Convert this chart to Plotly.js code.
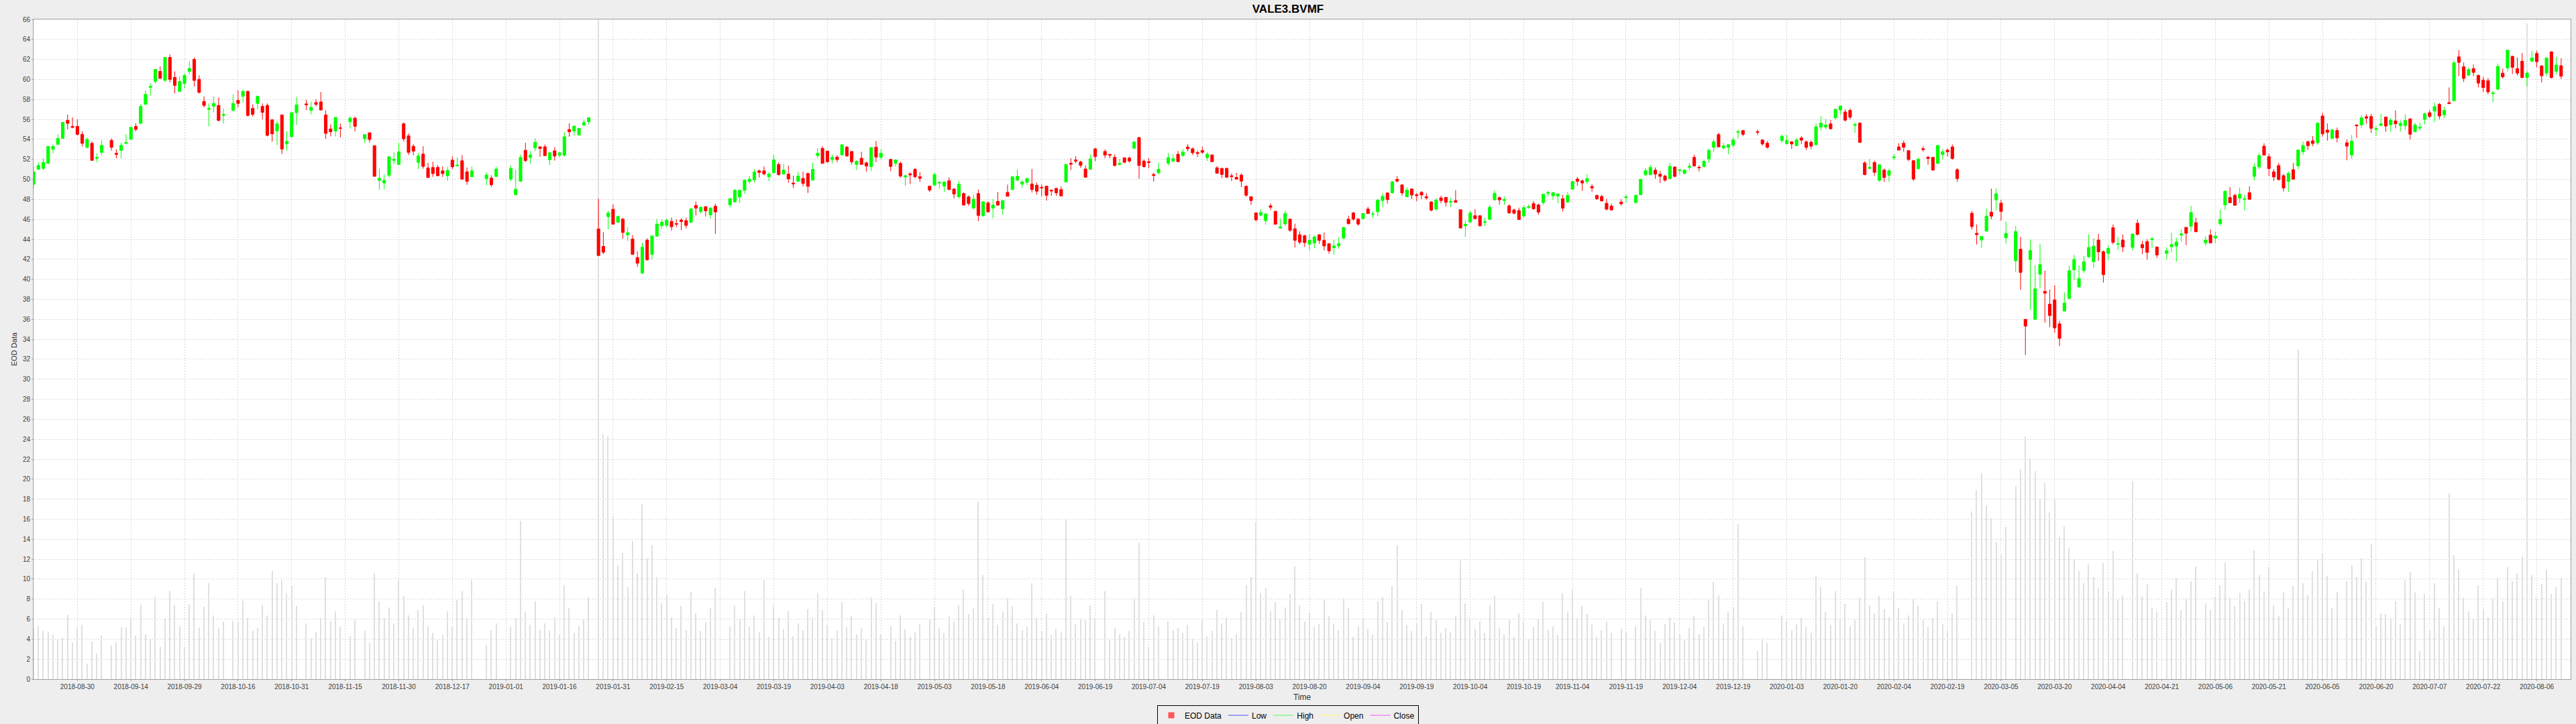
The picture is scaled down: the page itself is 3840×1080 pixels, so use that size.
<!DOCTYPE html>
<html lang="en">
<head>
    <meta charset="UTF-8">
    <title>VALE3.BVMF</title>
    <script src="https://cdn.plot.ly/plotly-3.0.1.min.js"></script>
    <style>
        body { margin: 0; background: #eeeeee; }
    </style>
</head>

<body>

<div id="plot"></div>

<script>

    // one line per month
    const dates = [
        '2018-08-17','2018-08-20','2018-08-21','2018-08-22','2018-08-23','2018-08-24','2018-08-27','2018-08-28','2018-08-29','2018-08-30','2018-08-31',
        '2018-09-03','2018-09-04','2018-09-05','2018-09-06','2018-09-10','2018-09-11','2018-09-12','2018-09-13','2018-09-14','2018-09-17','2018-09-18','2018-09-19','2018-09-20','2018-09-21','2018-09-24','2018-09-25','2018-09-26','2018-09-27','2018-09-28',
        '2018-10-01','2018-10-02','2018-10-03','2018-10-04','2018-10-05','2018-10-08','2018-10-09','2018-10-10','2018-10-11','2018-10-15','2018-10-16','2018-10-17','2018-10-18','2018-10-19','2018-10-22','2018-10-23','2018-10-24','2018-10-25','2018-10-26','2018-10-29','2018-10-30','2018-10-31',
        '2018-11-01','2018-11-05','2018-11-06','2018-11-07','2018-11-08','2018-11-09','2018-11-12','2018-11-13','2018-11-14','2018-11-16','2018-11-19','2018-11-21','2018-11-22','2018-11-23','2018-11-26','2018-11-27','2018-11-28','2018-11-29','2018-11-30',
        '2018-12-03','2018-12-04','2018-12-05','2018-12-06','2018-12-07','2018-12-10','2018-12-11','2018-12-12','2018-12-13','2018-12-14','2018-12-17','2018-12-18','2018-12-19','2018-12-20','2018-12-21','2018-12-26','2018-12-27','2018-12-28',
        '2019-01-02','2019-01-03','2019-01-04','2019-01-07','2019-01-08','2019-01-09','2019-01-10','2019-01-11','2019-01-14','2019-01-15','2019-01-16','2019-01-17','2019-01-18','2019-01-21','2019-01-22','2019-01-23','2019-01-24','2019-01-28','2019-01-29','2019-01-30','2019-01-31',
        '2019-02-01','2019-02-04','2019-02-05','2019-02-06','2019-02-07','2019-02-08','2019-02-11','2019-02-12','2019-02-13','2019-02-14','2019-02-15','2019-02-18','2019-02-19','2019-02-20','2019-02-21','2019-02-22','2019-02-25','2019-02-26','2019-02-27','2019-02-28',
        '2019-03-01','2019-03-06','2019-03-07','2019-03-08','2019-03-11','2019-03-12','2019-03-13','2019-03-14','2019-03-15','2019-03-18','2019-03-19','2019-03-20','2019-03-21','2019-03-22','2019-03-25','2019-03-26','2019-03-27','2019-03-28','2019-03-29',
        '2019-04-01','2019-04-02','2019-04-03','2019-04-04','2019-04-05','2019-04-08','2019-04-09','2019-04-10','2019-04-11','2019-04-12','2019-04-15','2019-04-16','2019-04-17','2019-04-18','2019-04-22','2019-04-23','2019-04-24','2019-04-25','2019-04-26','2019-04-29','2019-04-30',
        '2019-05-02','2019-05-03','2019-05-06','2019-05-07','2019-05-08','2019-05-09','2019-05-10','2019-05-13','2019-05-14','2019-05-15','2019-05-16','2019-05-17','2019-05-20','2019-05-21','2019-05-22','2019-05-23','2019-05-24','2019-05-27','2019-05-28','2019-05-29','2019-05-30','2019-05-31',
        '2019-06-03','2019-06-04','2019-06-05','2019-06-06','2019-06-07','2019-06-10','2019-06-11','2019-06-12','2019-06-13','2019-06-14','2019-06-17','2019-06-18','2019-06-19','2019-06-21','2019-06-24','2019-06-25','2019-06-26','2019-06-27','2019-06-28',
        '2019-07-01','2019-07-02','2019-07-03','2019-07-04','2019-07-05','2019-07-08','2019-07-10','2019-07-11','2019-07-12','2019-07-15','2019-07-16','2019-07-17','2019-07-18','2019-07-19','2019-07-22','2019-07-23','2019-07-24','2019-07-25','2019-07-26','2019-07-29','2019-07-30','2019-07-31',
        '2019-08-01','2019-08-02','2019-08-05','2019-08-06','2019-08-07','2019-08-08','2019-08-09','2019-08-12','2019-08-13','2019-08-14','2019-08-15','2019-08-16','2019-08-19','2019-08-20','2019-08-21','2019-08-22','2019-08-23','2019-08-26','2019-08-27','2019-08-28','2019-08-29','2019-08-30',
        '2019-09-02','2019-09-03','2019-09-04','2019-09-05','2019-09-06','2019-09-09','2019-09-10','2019-09-11','2019-09-12','2019-09-13','2019-09-16','2019-09-17','2019-09-18','2019-09-19','2019-09-20','2019-09-23','2019-09-24','2019-09-25','2019-09-26','2019-09-27','2019-09-30',
        '2019-10-01','2019-10-02','2019-10-03','2019-10-04','2019-10-07','2019-10-08','2019-10-09','2019-10-10','2019-10-11','2019-10-14','2019-10-15','2019-10-16','2019-10-17','2019-10-18','2019-10-21','2019-10-22','2019-10-23','2019-10-24','2019-10-25','2019-10-28','2019-10-29','2019-10-30','2019-10-31',
        '2019-11-01','2019-11-04','2019-11-05','2019-11-06','2019-11-07','2019-11-08','2019-11-11','2019-11-12','2019-11-13','2019-11-14','2019-11-18','2019-11-19','2019-11-21','2019-11-22','2019-11-25','2019-11-26','2019-11-27','2019-11-28','2019-11-29',
        '2019-12-02','2019-12-03','2019-12-04','2019-12-05','2019-12-06','2019-12-09','2019-12-10','2019-12-11','2019-12-12','2019-12-13','2019-12-16','2019-12-17','2019-12-18','2019-12-19','2019-12-20','2019-12-23','2019-12-26','2019-12-27','2019-12-30',
        '2020-01-02','2020-01-03','2020-01-06','2020-01-07','2020-01-08','2020-01-09','2020-01-10','2020-01-13','2020-01-14','2020-01-15','2020-01-16','2020-01-17','2020-01-20','2020-01-21','2020-01-22','2020-01-23','2020-01-24','2020-01-27','2020-01-28','2020-01-29','2020-01-30','2020-01-31',
        '2020-02-03','2020-02-04','2020-02-05','2020-02-06','2020-02-07','2020-02-10','2020-02-11','2020-02-12','2020-02-13','2020-02-14','2020-02-17','2020-02-18','2020-02-19','2020-02-20','2020-02-21','2020-02-26','2020-02-27','2020-02-28',
        '2020-03-02','2020-03-03','2020-03-04','2020-03-05','2020-03-06','2020-03-10','2020-03-11','2020-03-12','2020-03-13','2020-03-16','2020-03-17','2020-03-18','2020-03-19','2020-03-20','2020-03-23','2020-03-24','2020-03-25','2020-03-26','2020-03-27','2020-03-30','2020-03-31',
        '2020-04-01','2020-04-02','2020-04-03','2020-04-06','2020-04-07','2020-04-08','2020-04-09','2020-04-13','2020-04-14','2020-04-15','2020-04-16','2020-04-17','2020-04-20','2020-04-22','2020-04-23','2020-04-24','2020-04-27','2020-04-28','2020-04-29','2020-04-30',
        '2020-05-04','2020-05-05','2020-05-06','2020-05-07','2020-05-08','2020-05-11','2020-05-12','2020-05-13','2020-05-14','2020-05-15','2020-05-18','2020-05-19','2020-05-20','2020-05-21','2020-05-22','2020-05-25','2020-05-26','2020-05-27','2020-05-28','2020-05-29',
        '2020-06-01','2020-06-02','2020-06-03','2020-06-04','2020-06-05','2020-06-08','2020-06-09','2020-06-10','2020-06-12','2020-06-15','2020-06-16','2020-06-17','2020-06-18','2020-06-19','2020-06-22','2020-06-23','2020-06-24','2020-06-25','2020-06-26','2020-06-29','2020-06-30',
        '2020-07-01','2020-07-02','2020-07-03','2020-07-06','2020-07-07','2020-07-08','2020-07-09','2020-07-10','2020-07-13','2020-07-14','2020-07-15','2020-07-16','2020-07-17','2020-07-20','2020-07-21','2020-07-22','2020-07-23','2020-07-24','2020-07-27','2020-07-28','2020-07-29','2020-07-30','2020-07-31',
        '2020-08-03','2020-08-04','2020-08-05','2020-08-06','2020-08-07','2020-08-10','2020-08-11','2020-08-12','2020-08-13'
    ]

    const openPx = [
        49.5,51.0,51.1,51.6,53.0,53.5,54.1,55.9,55.3,55.3,54.5,
        53.2,53.6,52.1,52.7,53.9,52.6,52.9,53.6,54.0,55.3,55.6,57.5,59.2,59.8,60.8,59.9,62.2,60.2,58.8,
        59.6,60.8,62.0,60.0,57.8,57.0,57.3,57.4,56.4,56.9,57.9,58.3,58.8,57.1,57.6,57.3,57.4,55.96,54.84,56.45,53.54,54.26,
        56.67,57.55,56.9,57.68,57.75,56.45,55.04,54.84,55.15,55.78,56.12,54.06,54.66,53.37,49.9,49.63,50.4,51.9,51.49,
        55.56,54.35,53.31,51.70,52.53,51.14,51.19,51.19,50.85,50.36,51.92,51.34,51.86,50.76,50.25,50.09,50.13,50.29,
        50.02,48.46,49.80,52.91,52.19,53.15,53.26,53.26,51.97,52.86,52.42,52.42,54.99,54.83,54.45,55.43,55.77,45.04,43.29,46.27,47.01,
        45.71,46.02,44.46,44.03,42.18,40.63,43.92,42.49,44.32,45.37,45.40,45.80,45.58,45.93,45.87,45.71,47.39,46.78,47.27,46.45,
        47.32,47.45,47.74,48.24,48.91,49.80,49.96,50.85,50.85,50.26,50.66,51.49,50.53,50.53,49.63,49.81,50.10,50.59,49.92,
        52.38,53.10,52.83,51.98,52.23,52.45,53.23,52.79,51.49,52.11,51.65,51.27,53.21,52.20,52.0,51.60,51.60,50.24,50.55,51.0,50.26,
        49.32,49.43,49.63,49.32,49.86,49.03,48.25,48.58,48.25,47.13,48.58,46.35,47.64,47.13,47.80,47.06,48.69,48.98,49.92,49.52,49.70,49.54,
        49.41,49.21,49.32,48.92,49.10,48.98,49.74,51.60,51.94,51.74,51.04,51.0,53.05,52.79,52.50,52.20,51.49,52.16,52.13,
        53.11,54.18,51.83,51.77,50.49,50.65,51.61,51.83,52.51,52.39,53.24,53.06,52.68,52.89,52.17,52.44,51.16,51.10,51.10,50.36,50.20,50.43,
        49.31,48.26,46.65,46.42,45.87,47.36,46.80,45.13,45.55,46.02,45.06,44.46,44.35,43.52,43.63,44.46,43.90,43.56,43.16,43.34,44.12,46.02,
        46.63,46.02,46.07,47.03,46.49,46.76,47.88,48.64,48.64,50.0,49.44,48.26,49.04,48.46,48.70,48.26,47.74,47.03,48.15,48.19,47.70,
        47.88,46.96,45.35,45.73,46.36,46.36,45.69,46.0,47.95,48.17,47.88,47.35,46.94,46.88,46.34,47.19,47.57,47.44,47.68,48.60,48.35,48.33,48.06,
        47.73,49.02,50.03,49.85,49.78,49.29,48.40,48.29,47.61,47.32,47.73,48.17,47.68,48.46,50.45,50.48,50.92,50.52,50.34,
        50.07,51.24,50.88,50.59,51.21,52.20,51.21,51.30,52.04,53.20,54.48,53.16,53.20,53.43,54.70,54.88,54.77,53.94,53.61,
        53.88,53.58,53.76,53.38,54.14,53.76,53.72,53.47,55.22,55.22,55.55,56.15,56.94,56.74,56.9,55.40,55.62,51.64,51.10,51.69,49.90,50.93,
        50.41,52.16,53.25,53.61,52.87,51.87,51.08,53.07,52.20,52.20,51.60,52.49,52.92,53.25,50.97,46.61,44.60,43.93,
        44.82,46.72,47.95,47.62,44.15,41.85,43.01,36.0,41.98,35.99,40.51,38.79,37.51,37.94,35.55,36.82,38.09,40.95,39.23,40.87,42.25,
        41.76,43.93,42.77,42.59,45.16,43.50,43.93,43.19,45.61,43.48,43.77,43.97,43.24,42.59,43.26,43.32,44.42,45.20,45.31,45.67,
        43.64,44.42,44.13,45.56,47.44,48.18,48.40,48.11,48.0,48.67,50.30,51.24,53.32,52.27,50.75,51.38,50.37,49.79,50.97,51.35,
        52.76,53.77,53.86,53.66,56.34,54.93,54.10,54.89,53.66,52.43,55.45,55.45,56.27,56.29,55.0,55.40,56.23,55.45,55.85,55.38,55.38,
        56.05,54.77,55.13,56.0,56.67,56.83,57.50,56.45,57.68,57.86,62.26,61.26,60.43,61.08,60.41,59.92,59.87,58.57,59.02,60.63,61.15,62.31,61.08,
        61.82,60.18,61.82,62.60,61.35,60.63,62.76,60.81,61.37
    ]

    const highPx = [
        51.3,51.7,52.1,53.3,53.5,54.5,55.7,56.5,56.2,56.0,54.8,
        54.2,53.8,52.6,53.9,54.1,53.0,53.7,54.5,55.3,55.6,57.5,58.9,59.6,61.0,61.3,62.2,62.5,60.8,60.3,
        60.6,61.8,62.2,60.4,58.3,57.6,58.3,58.2,57.1,58.5,58.9,59.0,58.9,57.5,58.4,57.6,57.6,56.0,55.85,56.45,54.82,56.67,
        58.24,57.95,57.79,58.0,58.75,56.9,55.5,56.2,55.6,56.3,56.3,54.5,54.7,53.4,51.09,50.48,52.27,52.72,53.66,
        55.7,54.6,53.53,52.64,53.31,51.66,51.77,51.43,51.32,51.25,52.30,52.19,52.44,51.19,51.30,50.70,50.40,51.25,
        51.41,50.96,52.48,53.67,52.82,54.09,53.26,53.49,52.75,53.22,52.77,54.72,55.61,55.39,55.17,55.95,56.22,48.06,44.72,46.85,47.50,
        46.38,46.16,45.22,44.43,42.80,43.65,44.10,44.34,46.04,46.0,46.07,46.18,46.0,46.11,46.16,47.12,47.79,47.27,47.32,47.23,
        47.56,48.08,49.02,48.95,50.02,50.36,51.03,50.98,51.30,50.75,52.45,51.71,51.53,51.38,50.37,50.75,50.77,50.66,51.67,
        53.10,53.32,52.87,52.49,52.43,53.50,53.34,52.83,51.89,52.76,51.78,53.17,53.84,53.01,52.0,51.98,51.78,50.48,50.71,51.15,50.71,
        49.36,50.66,49.81,49.81,50.19,49.14,49.86,48.69,48.40,48.47,48.98,47.80,47.80,48.02,48.74,47.96,49.48,50.33,50.99,49.92,50.19,51.04,
        49.66,49.48,49.36,48.98,49.14,49.30,51.53,52.11,52.32,51.87,51.38,52.49,53.17,53.01,52.54,52.49,52.05,52.20,52.28,
        53.85,54.25,51.99,52.13,50.67,51.68,52.62,52.51,52.84,53.02,53.51,53.18,52.89,53.29,52.73,52.51,51.32,51.16,51.16,50.61,50.65,50.61,
        49.38,48.32,46.69,47.03,46.63,47.59,46.87,46.09,46.87,46.09,45.57,44.79,44.46,44.52,44.39,44.52,44.68,43.63,43.94,44.23,45.28,46.36,
        46.74,46.13,46.58,47.25,46.80,48.03,48.64,48.70,49.82,50.34,49.53,49.22,49.08,48.64,48.82,48.64,47.81,48.10,48.37,48.26,48.15,
        48.93,46.96,45.87,46.85,47.03,46.40,46.13,47.44,48.91,48.29,48.29,47.50,47.06,47.17,47.39,47.50,47.84,47.57,48.55,48.84,48.73,48.55,48.46,
        48.73,49.85,50.25,49.96,50.52,49.52,48.46,48.44,48.06,47.57,48.02,48.46,48.46,50.01,51.15,51.46,51.19,50.86,50.45,
        51.64,51.30,51.01,51.01,51.64,52.47,51.41,51.97,53.09,53.99,54.66,53.65,53.47,54.21,54.99,54.95,54.99,53.99,53.83,
        54.48,54.48,53.81,54.14,54.32,53.88,53.88,55.62,56.33,56.04,55.93,57.12,57.41,57.0,57.1,55.71,55.71,51.82,52.04,51.87,51.53,51.08,
        51.08,52.54,53.61,53.88,52.94,51.91,52.16,53.32,52.38,52.25,53.43,53.03,53.10,53.48,51.13,46.84,45.49,44.29,
        47.06,49.07,49.07,47.95,45.78,45.34,44.26,36.0,43.99,41.40,43.55,40.87,38.97,39.41,35.84,38.68,41.36,42.43,41.42,42.32,44.49,
        44.11,44.55,42.88,43.41,45.49,44.26,44.49,44.60,45.99,43.86,44.0,44.26,43.24,43.19,44.67,44.15,45.0,45.20,47.35,46.16,
        44.31,45.0,44.76,46.95,48.92,49.23,48.56,49.18,48.45,49.30,51.60,52.65,53.61,52.58,51.02,51.64,50.53,50.79,51.64,52.94,
        53.81,53.88,54.33,55.71,56.67,55.60,55.0,55.18,53.99,54.44,55.49,56.45,56.52,56.56,55.33,56.56,56.27,56.12,56.90,55.89,56.50,
        56.12,55.67,55.67,56.67,56.94,57.68,57.64,57.28,59.20,61.88,62.93,61.70,61.21,61.48,60.48,60.25,60.14,58.84,61.59,61.08,62.93,62.37,62.20,
        62.64,60.81,62.87,62.87,61.44,62.20,62.82,62.26,62.11
    ]

    const lowPx = [
        49.1,51.0,50.9,51.6,52.6,53.5,54.1,55.0,55.1,54.4,53.3,
        53.1,51.9,51.7,52.4,52.9,52.1,52.1,53.5,54.0,54.8,55.5,57.5,58.4,59.6,60.1,59.8,59.7,58.6,58.8,
        59.1,60.5,59.3,58.6,57.2,55.3,56.7,55.8,55.6,56.8,57.2,57.7,56.3,56.3,57.0,56.0,54.3,53.77,53.43,52.54,52.87,54.2,
        55.45,56.94,56.5,57.3,56.9,54.06,54.3,54.3,54.2,55.1,54.8,53.66,53.7,50.3,48.96,49.0,50.19,51.5,51.49,
        53.8,52.45,52.42,51.03,51.07,50.18,50.25,50.36,50.25,49.87,51.03,51.34,50.02,49.46,50.25,49.42,49.24,50.25,
        49.80,48.46,49.80,51.70,51.59,52.82,52.26,52.37,51.43,51.88,52.19,52.26,54.27,54.38,54.38,55.32,55.50,42.38,42.53,45.0,45.51,
        45.62,44.05,43.83,42.49,41.24,40.52,41.86,42.04,44.28,45.04,45.17,44.88,45.22,44.93,45.10,45.62,46.38,46.56,46.29,46.07,
        44.55,47.18,47.68,47.63,48.57,49.58,49.69,50.18,50.40,49.81,50.59,50.37,50.48,49.66,49.14,49.81,49.30,48.63,49.92,
        52.11,51.60,51.65,51.60,51.71,52.38,52.27,51.49,50.93,51.49,50.77,50.82,51.71,52.0,50.82,51.27,50.15,49.36,49.52,50.10,49.74,
        48.74,49.36,49.07,48.74,48.92,48.09,48.09,47.42,47.35,47.02,45.83,46.30,46.68,46.12,47.35,46.46,48.31,48.92,49.81,49.14,49.43,48.69,
        48.47,48.29,47.87,48.36,48.36,48.34,49.70,50.93,51.60,51.15,50.21,51.0,51.82,52.11,52.11,51.31,51.38,51.60,51.68,
        53.06,50.05,51.16,51.10,49.76,50.49,51.39,51.72,51.72,52.24,52.80,52.44,52.24,52.57,51.83,51.77,50.56,50.11,50.16,49.82,50.02,49.22,
        48.26,47.43,45.80,46.31,45.46,46.92,45.51,45.06,45.35,44.75,43.18,43.50,43.23,42.89,43.12,43.56,42.89,42.56,42.45,43.05,44.01,45.46,
        45.87,45.35,46.02,46.54,46.13,46.31,47.25,47.59,48.59,49.71,48.37,48.19,48.03,47.81,48.03,47.97,46.80,46.85,47.59,47.30,47.21,
        47.66,45.13,44.23,45.64,46.02,45.28,45.35,45.94,47.88,47.46,47.44,46.54,46.50,45.98,46.16,47.06,46.94,46.45,47.44,48.29,47.95,47.62,46.77,
        47.66,48.96,49.36,48.84,49.52,48.73,47.95,47.79,46.90,46.90,47.39,47.66,47.61,48.46,50.34,50.41,50.07,49.63,49.74,
        50.03,50.19,50.48,50.52,50.92,51.24,50.79,51.15,51.64,52.76,53.20,52.98,52.53,53.16,54.10,54.32,54.43,53.38,53.09,
        53.65,53.47,53.05,53.32,53.54,52.94,53.03,53.38,54.88,54.99,54.99,55.99,56.45,55.77,56.0,54.66,53.65,50.41,51.01,50.35,49.74,49.74,
        49.74,51.91,52.92,52.76,51.82,49.85,50.97,52.76,51.46,50.86,51.53,51.98,52.31,51.98,49.74,44.98,43.48,43.15,
        44.76,46.01,46.90,45.87,43.59,40.73,38.94,32.42,36.93,35.99,39.08,35.66,35.21,34.65,33.31,36.82,38.0,39.90,39.17,40.64,42.14,
        41.13,41.85,39.68,41.92,43.48,42.97,42.74,42.88,44.38,42.52,41.98,43.15,42.14,41.98,42.74,41.76,43.77,43.41,44.78,44.71,
        43.37,43.64,43.60,45.38,46.95,47.66,47.40,47.62,46.90,48.0,49.90,51.02,52.43,50.30,49.86,49.90,48.78,48.74,50.01,51.02,
        52.43,52.94,53.32,53.43,54.28,53.88,54.06,53.70,51.91,52.05,54.15,55.11,55.56,54.66,54.37,55.33,54.77,54.77,55.11,54.77,54.95,
        53.99,54.73,54.89,55.49,56.12,55.71,56.0,56.12,57.57,57.86,60.36,59.74,60.32,60.32,59.20,58.75,58.53,57.73,58.91,60.10,60.77,60.54,60.41,
        60.14,59.29,61.77,61.21,59.69,60.32,60.10,60.48,60.03
    ]

    const closePx = [
        50.75,51.4,51.7,53.3,53.3,54.1,55.7,55.6,55.2,54.5,53.6,
        54.0,51.9,52.2,53.4,53.2,52.5,53.4,53.7,55.2,55.0,57.3,58.5,59.3,61.0,60.1,62.2,60.0,59.4,59.8,
        60.4,61.1,59.9,58.7,57.4,57.1,57.6,55.9,56.5,57.6,57.6,58.8,56.4,56.5,58.3,56.7,54.4,54.55,55.56,53.03,53.81,56.67,
        57.46,57.46,57.2,57.5,56.94,54.6,54.77,56.2,55.1,56.12,55.31,54.48,53.99,50.3,50.1,49.9,52.27,52.0,52.76,
        54.06,52.7,52.82,52.33,51.30,50.18,50.58,50.36,50.58,50.90,51.25,51.43,50.02,49.80,50.85,50.43,49.46,51.03,
        51.10,49.02,52.19,51.88,52.44,53.71,53.09,52.37,52.66,52.33,52.66,54.27,54.76,55.32,55.10,55.68,56.17,42.38,42.71,46.63,45.51,
        46.29,44.68,44.66,42.49,41.60,43.21,41.95,44.34,45.53,45.71,45.91,45.26,45.51,45.78,45.40,47.05,47.12,47.21,46.85,47.12,
        46.74,48.08,48.91,48.91,49.91,50.02,50.74,50.69,50.54,50.53,51.94,50.48,50.93,50.04,49.54,50.33,49.59,49.30,51.0,
        52.61,51.60,51.76,52.20,51.98,53.46,52.34,51.76,51.82,51.49,51.33,53.17,52.23,52.61,51.29,51.94,50.33,50.37,50.44,50.26,50.10,
        48.92,50.48,49.70,49.74,48.98,48.54,49.52,47.42,47.58,48.02,46.39,47.76,46.75,47.42,47.42,47.87,48.31,50.26,50.30,49.74,50.08,48.98,
        48.81,49.14,48.40,48.83,48.65,48.34,51.49,51.51,51.82,51.40,50.21,52.05,52.27,52.43,52.41,51.38,51.60,51.71,51.83,
        53.73,51.39,51.28,51.68,50.38,51.01,52.17,52.06,51.77,52.73,53.06,52.66,52.59,52.71,52.51,51.77,50.61,50.49,50.20,50.27,50.02,49.82,
        48.41,47.88,45.95,46.69,46.54,47.21,45.51,45.24,46.58,44.90,43.90,43.72,43.67,43.90,44.23,43.90,43.34,42.85,43.34,43.56,45.17,45.57,
        46.02,45.53,46.58,46.58,46.54,47.92,48.30,47.97,49.76,49.82,48.64,48.93,48.44,48.37,48.44,48.15,46.92,47.92,47.88,47.70,47.81,
        47.70,45.13,45.51,46.63,46.07,45.35,45.78,47.21,48.60,47.95,47.97,46.65,46.61,45.98,47.17,47.28,47.06,46.72,48.51,48.69,48.67,48.55,47.12,
        48.40,49.78,49.81,49.63,50.07,49.13,48.06,47.84,47.01,46.94,47.55,48.26,48.40,50.01,50.86,51.19,50.52,50.30,49.92,
        51.30,50.30,50.97,50.92,51.32,51.35,51.15,51.80,52.91,53.76,53.25,53.34,53.47,53.94,54.77,54.50,54.70,53.54,53.20,
        54.32,53.88,53.54,53.94,53.92,53.20,53.32,55.26,55.62,55.44,55.06,57.0,57.34,55.93,56.22,55.49,53.70,50.48,51.19,50.70,51.46,50.19,
        50.86,52.25,52.92,53.21,51.98,50.03,52.02,52.98,52.09,50.93,53.39,52.76,52.76,52.09,50.08,45.27,44.47,44.29,
        46.32,46.32,48.56,46.79,44.60,44.78,40.69,35.32,42.88,39.05,41.47,38.61,36.37,35.14,34.09,37.62,40.86,41.98,40.08,41.76,43.19,
        43.32,42.74,40.46,43.10,43.70,43.57,43.24,44.53,44.49,43.15,42.70,44.06,42.43,42.86,43.48,43.73,44.55,44.60,46.68,44.76,
        43.93,43.64,44.31,46.01,48.81,47.66,47.40,48.51,48.07,48.0,51.24,52.38,52.43,51.08,50.24,49.97,49.14,50.59,50.01,52.94,
        53.39,53.37,53.59,55.62,54.55,54.71,54.95,54.15,53.32,53.83,55.36,56.16,56.12,55.11,55.07,55.56,55.33,55.94,55.56,55.60,55.89,
        54.51,55.45,55.22,56.56,56.29,57.28,56.34,56.90,57.57,61.66,61.70,60.10,60.99,60.70,59.63,59.18,58.75,58.66,61.30,60.25,62.93,61.21,60.63,
        60.18,60.63,62.15,61.77,60.36,62.15,60.18,61.44,60.32
    ]

    const volume = [
        5.0,5.32,4.85,4.74,4.42,3.98,4.07,6.44,3.71,5.18,5.41,
        1.56,3.75,2.57,4.36,3.35,3.71,5.14,5.18,6.15,4.36,7.44,4.47,4.02,8.27,3.24,6.03,8.83,7.42,5.32,
        3.24,7.42,10.5,5.18,7.26,9.6,6.37,5.09,5.77,5.85,5.70,7.87,6.10,4.85,5.07,7.46,6.39,10.8,9.6,9.9,8.56,9.3,
        7.33,5.59,4.07,4.69,6.08,10.2,5.77,6.75,5.2,4.3,5.9,4.8,3.6,10.6,7.8,6.1,7.2,5.6,9.8,
        8.3,6.4,5.1,6.9,7.4,5.3,4.6,3.9,4.4,6.8,5.2,7.9,8.8,6.1,9.9,3.4,4.9,5.6,
        5.2,6.1,15.8,6.7,5.4,7.8,4.9,5.6,4.8,6.2,4.4,9.4,7.1,4.6,5.3,6.0,8.2,80,24.5,24.3,16.2,
        11.4,12.6,9.2,13.8,10.6,17.5,12.1,13.4,10.2,7.6,8.4,6.2,5.1,7.3,4.9,8.7,6.6,4.8,5.7,7.1,
        9.1,5.3,7.4,6.0,8.8,5.2,6.4,4.7,9.9,4.2,7.3,6.1,5.0,6.8,4.3,5.6,4.9,7.0,6.2,
        8.6,6.9,5.4,4.1,4.8,7.7,5.2,6.3,4.5,5.1,4.0,8.2,7.6,4.4,5.3,3.8,6.4,5.0,4.2,4.7,5.5,
        6.0,7.2,5.1,4.6,6.3,5.8,7.4,8.9,6.5,7.1,17.8,10.4,6.2,7.5,5.4,6.8,8.1,7.3,5.6,4.9,5.2,9.6,
        6.1,4.8,6.6,4.4,5.0,4.7,15.9,8.3,5.5,6.0,5.9,7.4,6.2,8.8,3.9,5.1,4.5,4.2,4.8,
        8.1,13.6,5.7,3.2,6.4,5.3,5.8,4.9,5.1,4.6,5.4,4.0,3.7,5.9,4.3,4.8,6.9,5.6,6.2,4.1,4.5,6.7,
        9.4,10.2,15.7,8.6,9.1,6.8,7.7,6.0,7.2,8.5,11.3,7.4,5.8,6.6,5.2,5.5,7.9,6.3,5.6,4.9,8.0,7.1,
        4.2,5.3,6.1,5.0,4.4,7.8,8.2,5.7,9.3,13.4,6.9,5.4,4.8,5.6,7.5,4.3,6.7,5.9,4.6,5.1,4.7,
        6.3,11.9,7.6,6.2,5.0,5.8,4.6,7.4,8.3,5.1,4.5,5.9,4.2,6.6,5.7,4.0,5.2,6.0,7.7,4.9,5.3,4.4,8.6,
        6.8,8.9,6.1,7.3,6.5,5.4,4.2,4.9,5.8,4.6,5.0,4.7,5.3,9.1,6.4,5.9,4.8,3.6,5.5,
        6.2,5.7,4.4,3.9,5.1,6.3,4.5,5.2,7.9,9.7,8.4,5.6,6.8,7.2,15.5,5.3,2.8,4.1,3.6,
        6.4,5.8,4.9,5.5,6.1,5.2,4.6,10.3,9.2,6.7,5.4,8.8,6.0,7.6,5.3,5.9,8.1,12.2,7.4,6.6,8.3,7.0,
        6.2,8.7,7.1,5.6,6.4,8.0,7.3,5.9,5.2,6.1,7.8,5.5,4.9,6.6,9.4,16.8,18.9,20.6,
        17.4,16.1,13.7,12.4,15.2,19.3,21.0,24.3,22.1,20.8,18.0,19.6,16.7,17.9,14.2,15.3,13.1,12.0,10.8,9.6,11.5,
        10.2,9.1,11.6,8.7,12.8,7.9,8.4,19.8,10.6,8.3,9.5,7.2,6.8,7.7,8.9,10.1,6.9,8.0,9.8,11.3,
        7.6,6.9,8.2,9.4,11.7,8.1,7.3,8.6,7.8,9.0,12.9,10.4,8.8,11.2,7.4,6.3,8.7,7.1,9.3,33.0,
        9.6,8.4,10.8,11.9,12.6,10.3,7.08,8.72,9.8,11.4,10.2,12.1,9.7,13.5,5.36,6.55,6.53,6.10,7.76,5.52,9.9,
        10.7,8.65,2.84,8.49,4.87,9.6,7.08,5.32,18.6,12.4,11.0,8.11,6.79,5.94,9.4,7.04,6.19,8.05,10.1,7.76,11.2,9.8,10.6,
        12.3,65.6,10.4,8.05,9.5,10.9,8.54,9.2,10.1
    ]

    const tickDates = [
        '2018-08-30','2018-09-14','2018-09-29','2018-10-16','2018-10-31','2018-11-15','2018-11-30','2018-12-17',
        '2019-01-01','2019-01-16','2019-01-31','2019-02-15','2019-03-04','2019-03-19','2019-04-03','2019-04-18',
        '2019-05-03','2019-05-18','2019-06-04','2019-06-19','2019-07-04','2019-07-19','2019-08-03','2019-08-20',
        '2019-09-04','2019-09-19','2019-10-04','2019-10-19','2019-11-04','2019-11-19','2019-12-04','2019-12-19',
        '2020-01-03','2020-01-20','2020-02-04','2020-02-19','2020-03-05','2020-03-20','2020-04-04','2020-04-21',
        '2020-05-06','2020-05-21','2020-06-05','2020-06-20','2020-07-07','2020-07-22','2020-08-06'
    ]

    const legendNames = ['Low', 'High', 'Open', 'Close']
    const legendColors = ['#5050ff', '#50ff50', '#ffff50', '#ff50ff']

    // weekend dates sit inside the axis break, so put those ticks on the following Monday
    const tickVals = tickDates.map(d => {
        const t = new Date(d + 'T00:00:00Z')
        const wd = t.getUTCDay()
        if (wd === 6) t.setUTCDate(t.getUTCDate() + 2)
        if (wd === 0) t.setUTCDate(t.getUTCDate() + 1)
        return t.toISOString().slice(0, 10)
    })

    const volumeBars = {
        type: 'bar',
        x: dates,
        y: volume,
        width: 16000000,
        marker: {color: '#e0e0e0', line: {width: 0}},
        showlegend: false,
        hoverinfo: 'x+y'
    }

    const candles = {
        type: 'candlestick',
        x: dates,
        open: openPx,
        high: highPx,
        low: lowPx,
        close: closePx,
        increasing: {line: {color: '#00ff00', width: 1}, fillcolor: '#00ff00'},
        decreasing: {line: {color: '#ff0000', width: 1}, fillcolor: '#ff0000'},
        whiskerwidth: 0,
        showlegend: false
    }

    // legend-only entries, like the JFreeChart legend
    const eodKey = {
        type: 'scatter', mode: 'markers', x: [null], y: [null],
        name: 'EOD Data',
        marker: {symbol: 'square', color: '#ff5555', size: 9}
    }
    const lineKeys = legendNames.map((n, k) => ({
        type: 'scatter', mode: 'lines', x: [null], y: [null],
        name: n,
        line: {color: legendColors[k], width: 1}
    }))

    const data = [volumeBars, candles, eodKey].concat(lineKeys)

    const layout = {
        width: 3840,
        height: 1080,
        paper_bgcolor: '#eeeeee',
        plot_bgcolor: '#ffffff',
        margin: {l: 50, r: 8, t: 29, b: 67},
        font: {family: 'Liberation Sans, Arial, sans-serif', size: 10, color: '#404040'},
        title: {
            text: '<b>VALE3.BVMF</b>',
            x: 0.5, xref: 'container', xanchor: 'center',
            y: 1 - 13 / 1080, yref: 'container', yanchor: 'middle',
            font: {size: 17, color: '#000000'}
        },
        boxgap: 0.2,
        bargap: 0,
        showlegend: true,
        legend: {
            orientation: 'h',
            x: 0.5, xref: 'container', xanchor: 'center',
            y: 13 / 1080, yref: 'container', yanchor: 'middle',
            bgcolor: 'rgba(0,0,0,0)',
            bordercolor: '#000000',
            borderwidth: 1,
            font: {size: 12, color: '#000000'},
            itemwidth: 30
        },
        xaxis: {
            type: 'date',
            range: ['2018-08-17', '2020-08-14 22:48'],
            rangebreaks: [{bounds: ['sat', 'mon']}],
            rangeslider: {visible: false},
            tickmode: 'array',
            tickvals: tickVals,
            ticktext: tickDates,
            ticks: 'outside',
            ticklen: 2,
            tickcolor: '#a0a0a0',
            showline: true,
            linecolor: '#a0a0a0',
            mirror: true,
            showgrid: true,
            gridcolor: '#d8d8d8',
            griddash: '2px,2px',
            zeroline: false,
            title: {text: 'Time', font: {size: 12, color: '#303030'}, standoff: 6}
        },
        yaxis: {
            range: [0, 66],
            tick0: 0,
            dtick: 2,
            ticks: 'outside',
            ticklen: 2,
            tickcolor: '#a0a0a0',
            showline: true,
            linecolor: '#a0a0a0',
            mirror: true,
            showgrid: true,
            gridcolor: '#d8d8d8',
            griddash: '2px,2px',
            zeroline: false,
            title: {text: 'EOD Data', font: {size: 11, color: '#303030'}, standoff: 6}
        }
    }

    Plotly.newPlot('plot', data, layout, {displayModeBar: false})

</script>
</body>
</html>
